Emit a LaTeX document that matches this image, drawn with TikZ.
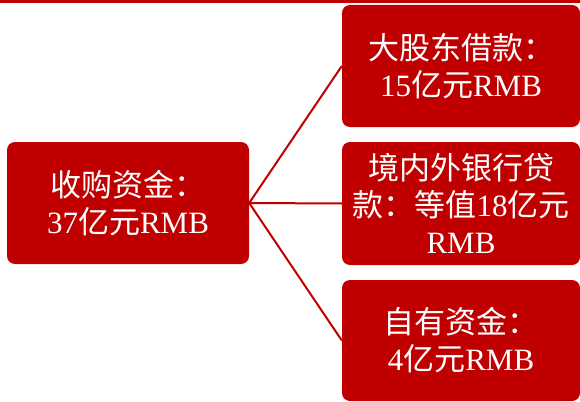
\documentclass[tikz,border=0pt]{standalone}
\usepackage{fontspec}
\setmainfont{Liberation Serif}
\newfontfamily\cjk{Noto Sans CJK SC}
\newcommand\zhtxt[1]{{\cjk #1}}
\definecolor{boxred}{HTML}{C00000}
\begin{document}
\begin{tikzpicture}[x=1pt,y=-1pt,
  box/.style={rectangle, fill=boxred, rounded corners=8pt, text=white, align=center,
    inner sep=0pt, font=\fontsize{31}{37}\selectfont},
  link/.style={draw=boxred, line width=2pt}]
\useasboundingbox (0,0) rectangle (580,401);
\fill[boxred] (0,0.5) rectangle (580,3.5);
\node[box, minimum width=242pt, minimum height=122pt] (src) at (128,203)
  {\zhtxt{收购资金：}\\37\zhtxt{亿元}RMB};
\node[box, minimum width=238pt, minimum height=122pt] (a) at (461,66)
  {\zhtxt{大股东借款：}\\15\zhtxt{亿元}RMB};
\node[box, minimum width=238pt, minimum height=123pt] (b) at (461,203.5)
  {\zhtxt{境内外银行贷}\\\zhtxt{款：等值}18\zhtxt{亿元}\\RMB};
\node[box, minimum width=238pt, minimum height=121pt] (c) at (461,340.5)
  {\zhtxt{自有资金：}\\4\zhtxt{亿元}RMB};
\draw[link] (src.east) -- (a.west);
\draw[link] (src.east) -- (b.west);
\draw[link] (src.east) -- (c.west);
\end{tikzpicture}
\end{document}
